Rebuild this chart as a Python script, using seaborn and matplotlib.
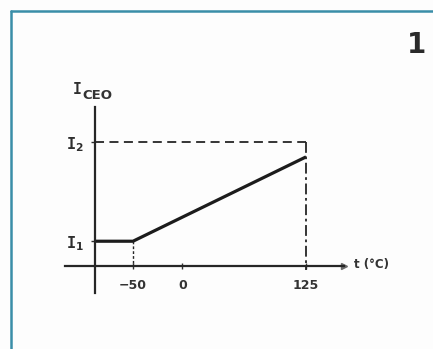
import matplotlib
matplotlib.use("Agg")
import matplotlib.pyplot as plt
import seaborn as sns
import pandas as pd
from matplotlib.lines import Line2D

# I_CEO versus temperature: flat at I1 below -50 °C, then rising linearly to 125 °C
temp_c = [-88, -50, 125]
i_ceo = [0.2, 0.2, 0.88]
i_levels = [0.2, 1.0]
i_labels = [r"$\mathtt{I}_\mathbf{1}$", r"$\mathtt{I}_\mathbf{2}$"]
t_ticks = [-50, 0, 125]
t_labels = ["\u221250", "0", "125"]
t_origin = -88        # temperature where the vertical axis crosses
t_max = 125

sns.set_theme(style="white")
plt.rcParams["font.family"] = ["DejaVu Sans"]
plt.rcParams["mathtext.fontset"] = "custom"
plt.rcParams["mathtext.tt"] = "DejaVu Sans Mono:bold"
plt.rcParams["mathtext.bf"] = "DejaVu Sans:bold"
plt.rcParams["mathtext.rm"] = "DejaVu Sans"

ink = "#262626"
fig = plt.figure(figsize=(4.33, 3.49), dpi=100)
fig.patch.set_facecolor("#fdfdfd")
ax = fig.add_axes([0, 0, 1, 1])
ax.set_facecolor("none")
ax.set_xlim(-184.5, 253.4)
ax.set_ylim(-0.669, 2.145)

df = pd.DataFrame({"t": temp_c, "I": i_ceo})
sns.lineplot(data=df, x="t", y="I", ax=ax, color="#1c1c1c", lw=2.3,
             sort=False, solid_capstyle="butt")

# guide lines to I2 and down to the temperature axis
ax.plot([t_origin, t_max], [i_levels[1], i_levels[1]], color=ink, lw=1.3,
        ls=(0, (5, 3)))
ax.plot([t_max, t_max], [i_levels[1], -0.035], color=ink, lw=1.3,
        ls=(0, (6, 2, 1.5, 2)))
ax.plot([temp_c[1], temp_c[1]], [i_ceo[1], 0], color=ink, lw=1.0,
        ls=(0, (2, 1.5)))

# axes drawn as crossing spines
for side in ("top", "right"):
    ax.spines[side].set_visible(False)
ax.spines["left"].set_position(("data", t_origin))
ax.spines["left"].set_bounds(-0.218, 1.28)
ax.spines["bottom"].set_position(("data", 0))
ax.spines["bottom"].set_bounds(-118.7, 163)
for side in ("left", "bottom"):
    ax.spines[side].set_color(ink)
    ax.spines[side].set_linewidth(1.6)
ax.plot([163], [0], marker=">", ms=5, color="#6a6a6a", clip_on=False)

ax.set_xticks(t_ticks, t_labels)
ax.set_yticks(i_levels, i_labels)
ax.tick_params(axis="x", direction="inout", length=5, width=1.0, pad=7,
               labelsize=9, colors="#333333", bottom=True)
for lab in ax.get_xticklabels():
    lab.set_fontweight("bold")
ax.tick_params(axis="y", direction="out", length=3, width=1.0, pad=5,
               labelsize=11, colors="#2e2e2e", left=True)
ax.set_xlabel("")
ax.set_ylabel("")

ax.text(-111, 1.42, "I", fontsize=10.5, family="DejaVu Sans Mono",
        fontweight="bold", color="#2e2e2e", va="center", ha="left")
ax.text(-101, 1.375, "CEO", fontsize=9.5, fontweight="bold",
        color="#333333", va="center", ha="left")
ax.text(174, 0.015, "t (°C)", fontsize=8.5, fontweight="bold",
        color="#333333", va="center", ha="left")
ax.text(0.962, 0.87, "1", transform=ax.transAxes, fontsize=20,
        fontweight="bold", color="#2a2a2a", ha="center", va="center")

# page frame
teal = "#3a8ea8"
fx, fy = 11 / 433, 1 - 11 / 349
fig.add_artist(Line2D([fx, 1], [fy, fy], color=teal, lw=1.8))
fig.add_artist(Line2D([fx, fx], [0, fy], color=teal, lw=1.8))

fig.savefig("out.png", dpi=100)
